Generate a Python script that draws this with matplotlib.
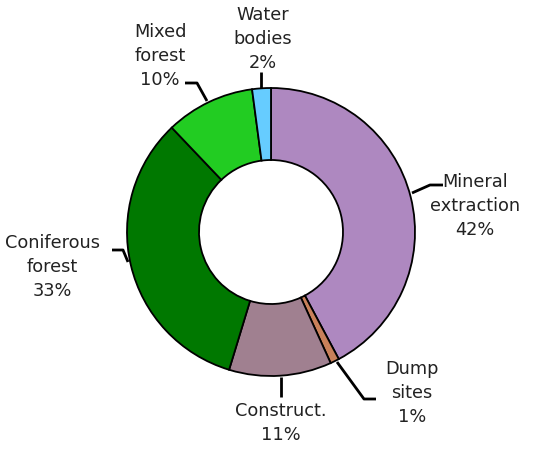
import matplotlib
matplotlib.use("Agg")
import matplotlib.pyplot as plt

categories = ["Mineral\nextraction", "Dump\nsites", "Construct.", "Coniferous\nforest", "Mixed\nforest", "Water\nbodies"]
values = [42.2, 1.0, 11.5, 33.2, 10.0, 2.1]
pct_labels = ["42%", "1%", "11%", "33%", "10%", "2%"]
colors = ["#AE88C0", "#C8805A", "#A08090", "#007800", "#22CC22", "#66CCFF"]

W, H = 534, 453
fig = plt.figure(figsize=(W / 100, H / 100), dpi=100)
ax = fig.add_axes([0, 0, 1, 1])

cx, cy = 271, H - 232
R = 144
ax.pie(values, colors=colors, startangle=90, counterclock=False,
       center=(cx, cy), radius=R, frame=True,
       wedgeprops=dict(width=R * 0.5, edgecolor="black", linewidth=1.3))
ax.set_xlim(0, W)
ax.set_ylim(0, H)
ax.set_aspect("equal")
ax.axis("off")

# label text positions (pixel, y from top) and leader lines
label_pos = [(475, 206), (412, 393), (281, 423), (52, 267), (160, 56), (263, 39)]
leaders = [
    [(412, 193), (430, 185), (443, 185)],
    [(337, 362), (364, 399), (376, 399)],
    [(281, 377), (281, 397)],
    [(128, 262), (123, 250), (112, 250)],
    [(207, 101), (197, 83), (185, 83)],
    [(261, 88), (261, 72)],
]

for cat, pct, (tx, ty), pts in zip(categories, pct_labels, label_pos, leaders):
    ax.text(tx, H - ty, cat + "\n" + pct, ha="center", va="center",
            fontsize=12.8, color="#222222", linespacing=1.42,
            family="DejaVu Sans")
    xs = [p[0] for p in pts]
    ys = [H - p[1] for p in pts]
    ax.plot(xs, ys, color="black", linewidth=2, solid_capstyle="butt")

fig.savefig("out.png", dpi=100)
